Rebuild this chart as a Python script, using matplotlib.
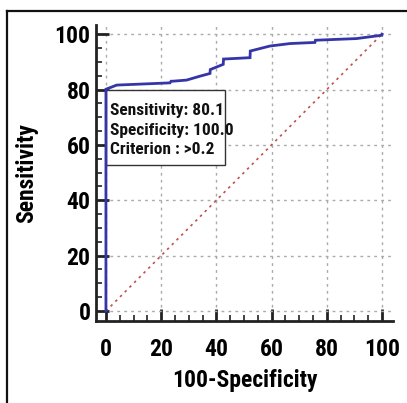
import matplotlib
matplotlib.use("Agg")
import matplotlib.pyplot as plt
from matplotlib.patches import Rectangle
from matplotlib import font_manager as fm

# ROC curve points (100-Specificity, Sensitivity)
fpr = [0, 0, 0, 3.9, 23.2, 23.6, 24.2, 29.2, 34.0, 37.7, 37.8, 42.5, 42.6, 52.2, 52.3, 59.4, 66.7, 75.7, 75.9, 90.8, 99.9, 100]
tpr = [0, 80.1, 80.1, 81.6, 82.4, 83.0, 83.0, 83.4, 84.8, 85.8, 87.2, 89.1, 91.0, 91.5, 93.9, 95.7, 96.6, 97.0, 97.8, 98.4, 99.6, 100]
diag_x = [0, 100]
diag_y = [0, 100]
ticks = [0, 20, 40, 60, 80, 100]
box_lines = ["Sensitivity: 80.1", "Specificity: 100.0", "Criterion : >0.2"]

bold_names = {f.name for f in fm.fontManager.ttflist
              if isinstance(f.weight, int) and f.weight >= 700 and f.style == 'normal'}
pref = ["Liberation Sans Narrow", "Arial Narrow", "Archivo Narrow", "Roboto Condensed",
        "PT Sans Narrow", "Barlow Semi Condensed", "Sofia Sans Semi Condensed",
        "Liberation Sans", "DejaVu Sans"]
fam = [n for n in pref if n in bold_names]
plt.rcParams['font.family'] = fam[:1] + ["DejaVu Sans"]

fig = plt.figure(figsize=(4.07, 4.03), dpi=100)
W, H = 407, 403

# outer frame (left and top edges visible, the rest runs off the image)
x0 = 7 / W
y0 = 1 - 11 / H
frame = fig.add_axes([x0, -0.05, 1.0, y0 + 0.05], zorder=-5)
frame.set_facecolor('none')
frame.set_xticks([])
frame.set_yticks([])
for side in ['right', 'bottom']:
    frame.spines[side].set_visible(False)
for side in ['left', 'top']:
    frame.spines[side].set_linewidth(1.6)
    frame.spines[side].set_color('#111111')

ax = fig.add_axes([96 / W, 1 - 321 / H, 297 / W, 296 / H])
ax.set_facecolor('none')

ax.set_xlim(-3.6, 104)
ax.set_ylim(-3.6, 103.3)

ax.grid(True, which='major', color='#aaaaaa', linestyle=(0, (2, 3)), linewidth=1.0)
ax.set_axisbelow(True)

ax.plot(diag_x, diag_y, color='#c0504d', linestyle=(0, (1.5, 2.5)), linewidth=1.2, zorder=2)

rect = Rectangle((0, 52.6), 43.1, 27.4, facecolor='white', edgecolor='#333333', linewidth=1.0, zorder=3)
ax.add_patch(rect)
ax.plot(fpr, tpr, color='#3535a8', linewidth=2.0, zorder=4, solid_joinstyle='miter')

line_y = [72.4, 65.3, 58.2]
for s, yy in zip(box_lines, line_y):
    ax.text(1.5, yy, s, fontsize=12.5, fontweight='bold', va='center', ha='left',
            color='#111111', zorder=5)

for side in ['top', 'right']:
    ax.spines[side].set_visible(False)
for side in ['left', 'bottom']:
    ax.spines[side].set_linewidth(2.0)
    ax.spines[side].set_color('#222222')

ax.set_xticks(ticks)
ax.set_yticks(ticks)
ax.set_xticks(range(0, 101, 5), minor=True)
ax.set_yticks(range(0, 101, 5), minor=True)
ax.tick_params(which='major', direction='in', length=9, width=2, color='#222222', labelsize=17)
ax.tick_params(which='minor', direction='in', length=4.5, width=1.2, color='#222222')
ax.tick_params(axis='x', which='major', pad=12)
ax.tick_params(axis='y', which='major', pad=4)
for lab in ax.get_xticklabels() + ax.get_yticklabels():
    lab.set_fontweight('bold')

ax.set_xlabel('100-Specificity', fontsize=17, fontweight='bold', labelpad=6)
ax.set_ylabel('Sensitivity', fontsize=17, fontweight='bold', labelpad=12)

fig.savefig('out.png', dpi=100)
